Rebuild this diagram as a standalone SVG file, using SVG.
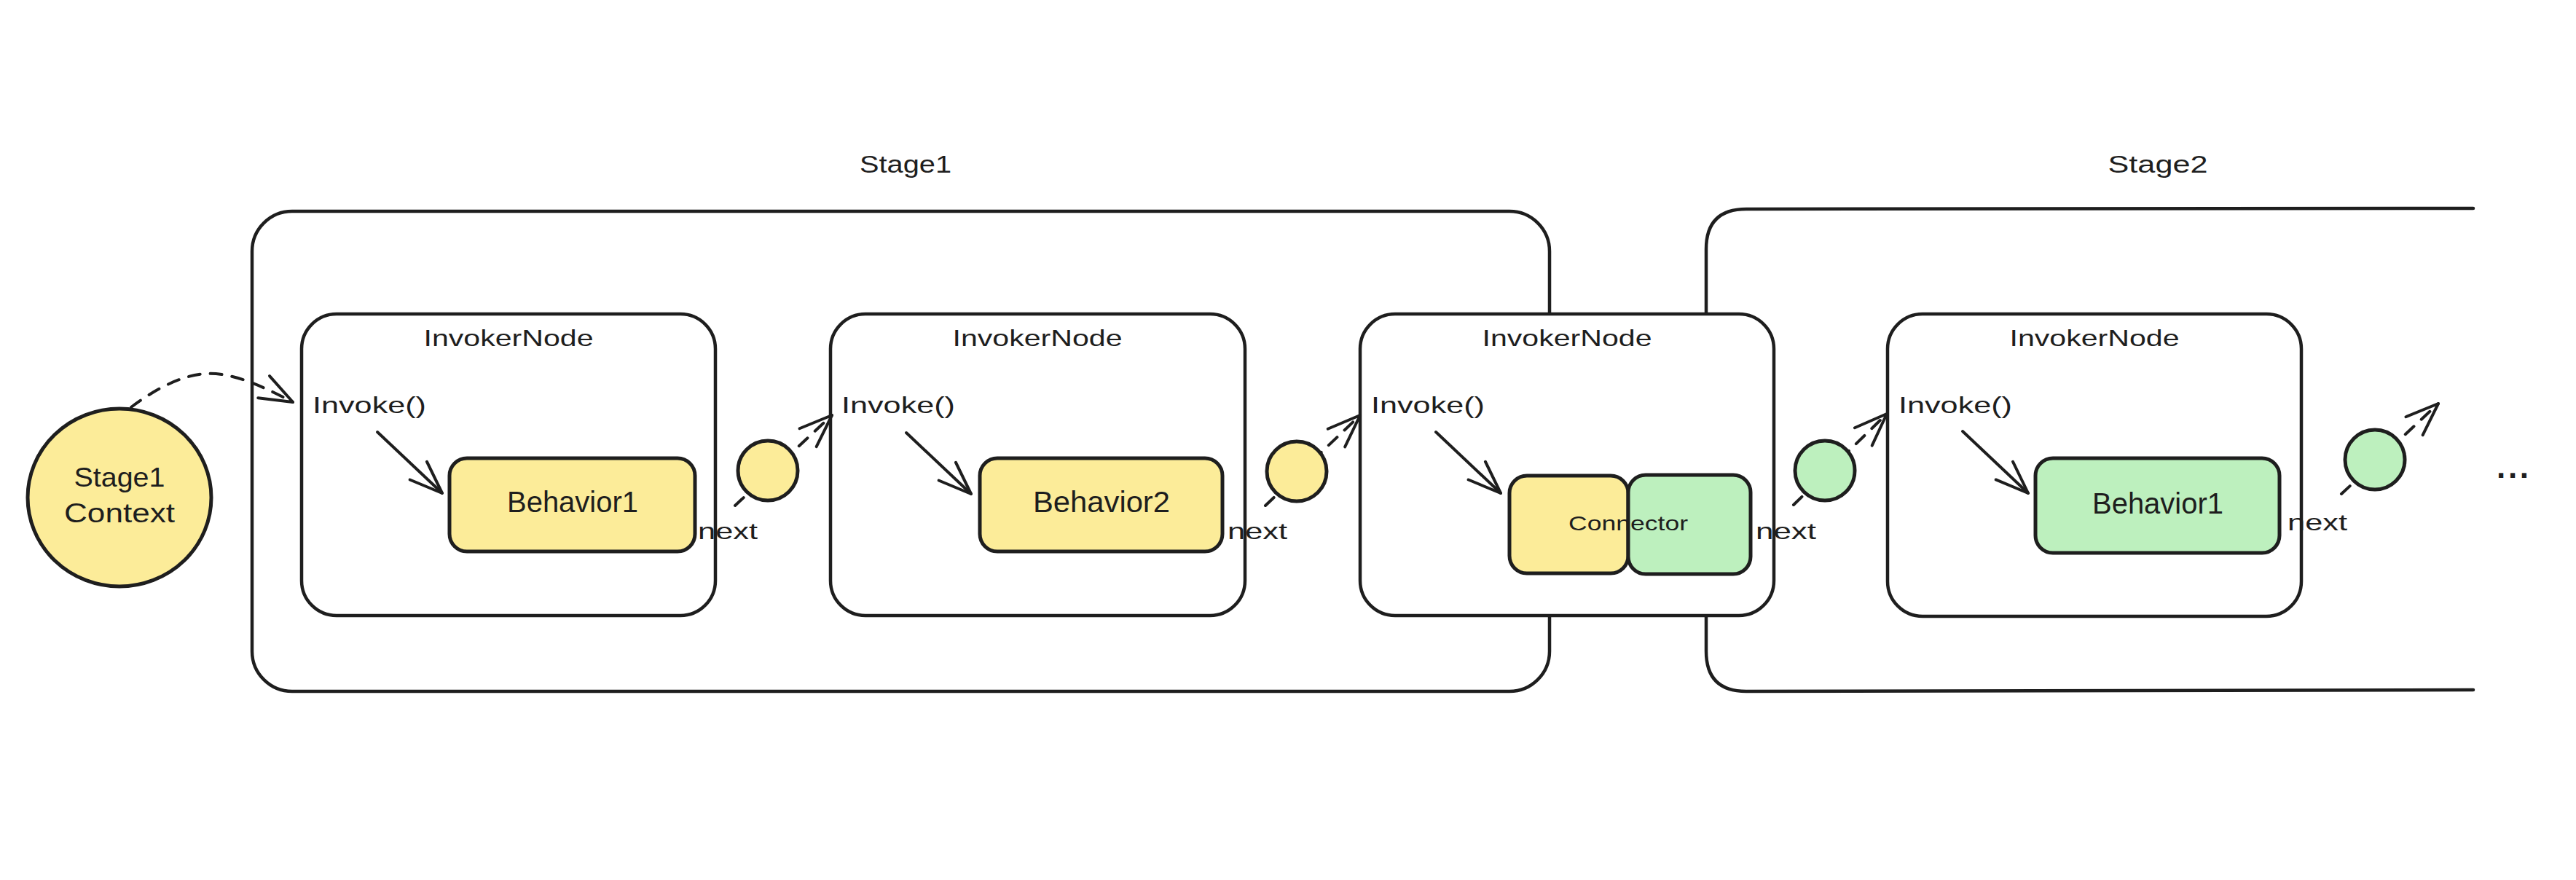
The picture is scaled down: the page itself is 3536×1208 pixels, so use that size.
<svg xmlns="http://www.w3.org/2000/svg" width="3536" height="1208" viewBox="0 0 3536 1208">
  <style>
    .stage { fill: none; stroke: #1e1e1e; stroke-width: 4.5; stroke-linecap: round; stroke-linejoin: round; }
    .node { fill: #ffffff; stroke: #1e1e1e; stroke-width: 4.5; }
    .yellow { fill: #fcec99; stroke: #1e1e1e; stroke-width: 5; }
    .green { fill: #bdf0be; stroke: #1e1e1e; stroke-width: 5; }
    .t { font-family: "Liberation Sans", Arial, sans-serif; fill: #1e1e1e; }
    .title { font-size: 34px; }
    .lbl { font-size: 32px; }
    .beh { font-size: 40px; }
    .small { font-size: 28px; }
    .conn { fill: none; stroke: #1e1e1e; stroke-width: 4; stroke-linecap: round; }
    .dash { stroke-dasharray: 16 14; }
  </style>
  <defs>
    <marker id="arrow" markerUnits="userSpaceOnUse" markerWidth="60" markerHeight="60" viewBox="-50 -25 60 50" refX="0" refY="0" orient="auto" overflow="visible">
      <path d="M -45 -17 L 0 0 L -45 17" fill="none" stroke="#1e1e1e" stroke-width="4" stroke-linecap="round" stroke-linejoin="round" stroke-dasharray="none"/>
    </marker>
  </defs>
  <rect width="3536" height="1208" fill="#ffffff"/>

  <!-- Stages -->
  <g id="stage1">
    <rect class="stage" x="346" y="290" width="1781" height="659" rx="55"/>
    <text class="t title" x="1243" y="237" text-anchor="middle" textLength="126" lengthAdjust="spacingAndGlyphs">Stage1</text>
  </g>
  <g id="stage2">
    <path class="stage" d="M 3395 286 L 2397 287 Q 2342 287 2342 342 L 2342 894 Q 2342 949 2397 949 L 3395 947"/>
    <text class="t title" x="2962" y="237" text-anchor="middle" textLength="137" lengthAdjust="spacingAndGlyphs">Stage2</text>
  </g>

  <!-- Invoker nodes -->
  <g id="invoker1">
    <rect class="node" x="414" y="431" width="568" height="414" rx="48"/>
    <text class="t lbl" x="698" y="475" text-anchor="middle" textLength="233" lengthAdjust="spacingAndGlyphs">InvokerNode</text>
    <text class="t lbl" x="429" y="567" textLength="156" lengthAdjust="spacingAndGlyphs">Invoke()</text>
    <g id="behavior1">
      <rect class="yellow" x="617" y="629" width="337" height="128" rx="24"/>
      <text class="t beh" x="786" y="703" text-anchor="middle" textLength="180" lengthAdjust="spacingAndGlyphs">Behavior1</text>
    </g>
    <text class="t lbl" x="958" y="740" textLength="82" lengthAdjust="spacingAndGlyphs">next</text>
  </g>
  <g id="invoker2">
    <rect class="node" x="1140" y="431" width="569" height="414" rx="48"/>
    <text class="t lbl" x="1424" y="475" text-anchor="middle" textLength="233" lengthAdjust="spacingAndGlyphs">InvokerNode</text>
    <text class="t lbl" x="1155" y="567" textLength="156" lengthAdjust="spacingAndGlyphs">Invoke()</text>
    <g id="behavior2">
      <rect class="yellow" x="1345" y="629" width="333" height="128" rx="24"/>
      <text class="t beh" x="1512" y="703" text-anchor="middle" textLength="188" lengthAdjust="spacingAndGlyphs">Behavior2</text>
    </g>
    <text class="t lbl" x="1685" y="740" textLength="82" lengthAdjust="spacingAndGlyphs">next</text>
  </g>
  <g id="invoker3">
    <rect class="node" x="1867" y="431" width="568" height="414" rx="48"/>
    <text class="t lbl" x="2151" y="475" text-anchor="middle" textLength="233" lengthAdjust="spacingAndGlyphs">InvokerNode</text>
    <text class="t lbl" x="1882" y="567" textLength="156" lengthAdjust="spacingAndGlyphs">Invoke()</text>
    <g id="connector">
      <rect class="yellow" x="2072" y="653" width="163" height="134" rx="24"/>
      <rect class="green" x="2235" y="652" width="168" height="136" rx="24"/>
      <text class="t small" x="2235" y="728" text-anchor="middle" textLength="164" lengthAdjust="spacingAndGlyphs">Connector</text>
    </g>
    <text class="t lbl" x="2410" y="740" textLength="83" lengthAdjust="spacingAndGlyphs">next</text>
  </g>
  <g id="invoker4">
    <rect class="node" x="2591" y="431" width="568" height="415" rx="48"/>
    <text class="t lbl" x="2875" y="475" text-anchor="middle" textLength="233" lengthAdjust="spacingAndGlyphs">InvokerNode</text>
    <text class="t lbl" x="2606" y="567" textLength="156" lengthAdjust="spacingAndGlyphs">Invoke()</text>
    <g id="behavior1b">
      <rect class="green" x="2794" y="629" width="335" height="130" rx="24"/>
      <text class="t beh" x="2962" y="705" text-anchor="middle" textLength="180" lengthAdjust="spacingAndGlyphs">Behavior1</text>
    </g>
    <text class="t lbl" x="3140" y="728" textLength="82" lengthAdjust="spacingAndGlyphs">next</text>
  </g>

  <!-- Connectors -->
  <g id="connectors">
    <path class="conn dash" d="M 180 559 C 205 540 245 515 282 513 C 320 511 360 530 402 552" marker-end="url(#arrow)"/>
    <line class="conn" x1="518" y1="593" x2="607" y2="677" marker-end="url(#arrow)"/>
    <line class="conn" x1="1244" y1="594" x2="1333" y2="678" marker-end="url(#arrow)"/>
    <line class="conn" x1="1971" y1="593" x2="2060" y2="677" marker-end="url(#arrow)"/>
    <line class="conn" x1="2694" y1="592" x2="2784" y2="677" marker-end="url(#arrow)"/>
    <line class="conn dash" x1="1009" y1="694" x2="1142" y2="570" marker-end="url(#arrow)"/>
    <line class="conn dash" x1="1737" y1="694" x2="1867" y2="570" marker-end="url(#arrow)"/>
    <line class="conn dash" x1="2462" y1="693" x2="2590" y2="568" marker-end="url(#arrow)"/>
    <line class="conn dash" x1="3214" y1="678" x2="3347" y2="554" marker-end="url(#arrow)"/>
  </g>

  <!-- Token circles -->
  <g id="token1"><circle class="yellow" cx="1054" cy="646" r="41"/></g>
  <g id="token2"><circle class="yellow" cx="1780" cy="647" r="41"/></g>
  <g id="token3"><circle class="green" cx="2505" cy="646" r="41"/></g>
  <g id="token4"><circle class="green" cx="3260" cy="631" r="41"/></g>

  <!-- Context -->
  <g id="stage1-context">
    <ellipse class="yellow" cx="164" cy="683" rx="126" ry="122"/>
    <text class="t" font-size="36" x="164" y="668" text-anchor="middle" textLength="125" lengthAdjust="spacingAndGlyphs">Stage1</text>
    <text class="t" font-size="36" x="164" y="717" text-anchor="middle" textLength="152" lengthAdjust="spacingAndGlyphs">Context</text>
  </g>

  <g id="ellipsis">
    <text class="t" font-size="44" font-weight="bold" x="3427" y="656" textLength="44" lengthAdjust="spacing">...</text>
  </g>
</svg>
